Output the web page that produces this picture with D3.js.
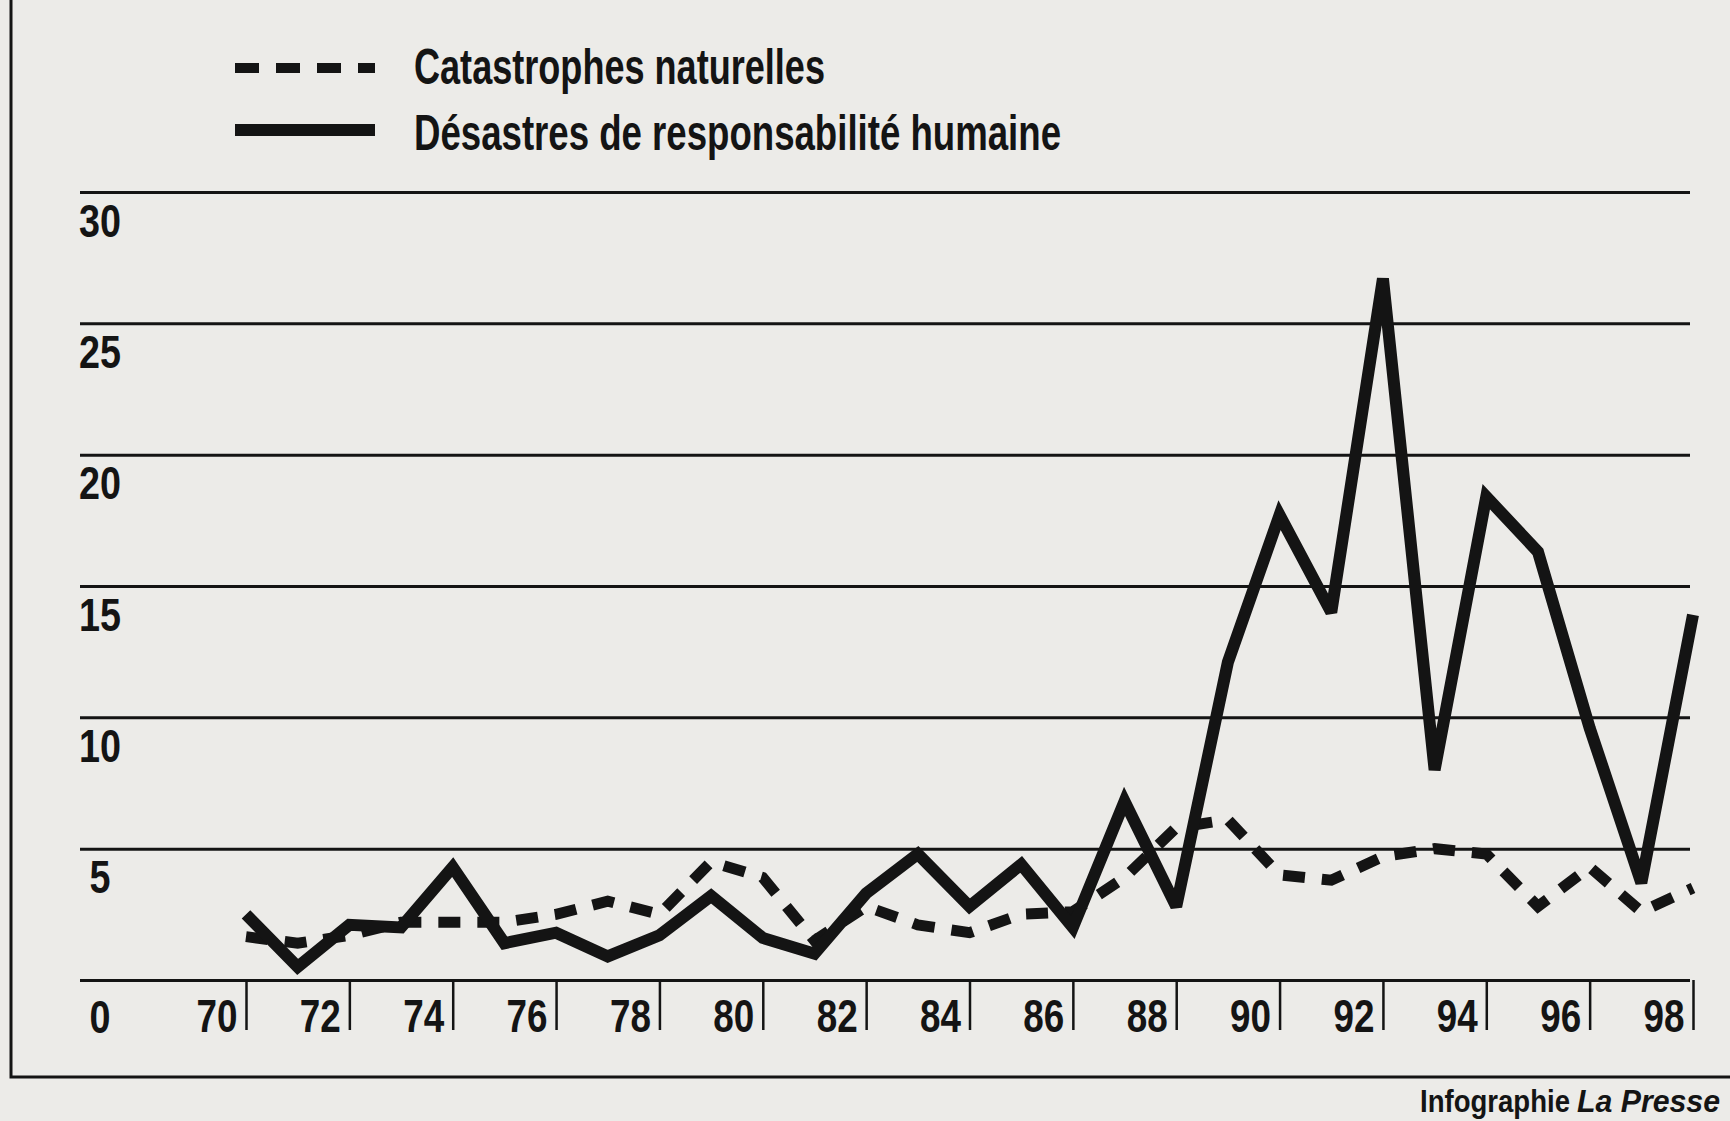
<!DOCTYPE html>
<html>
<head>
<meta charset="utf-8">
<script src="https://cdn.jsdelivr.net/npm/d3@7"></script>
<style>
  body { margin: 0; background: #ecebe8; }
  svg { display: block; }
</style>
</head>
<body>
<div id="chart"></div>
<script>
// Years on the x axis (19xx)
const years = [70, 71, 72, 73, 74, 75, 76, 77, 78, 79,
               80, 81, 82, 83, 84, 85, 86, 87, 88, 89,
               90, 91, 92, 93, 94, 95, 96, 97, 98];

// Catastrophes naturelles (dashed)
const naturelles = [1.65, 1.4, 1.7, 2.2, 2.2, 2.2, 2.5, 3.0, 2.5, 4.5,
                    3.9, 1.5, 2.8, 2.1, 1.8, 2.5, 2.6, 3.9, 5.8, 6.1,
                    4.0, 3.8, 4.7, 5.0, 4.8, 2.8, 4.3, 2.6, 3.5];

// Désastres de responsabilité humaine (solid)
const humaines = [2.5, 0.5, 2.1, 2.0, 4.3, 1.4, 1.8, 0.9, 1.7, 3.2,
                  1.6, 1.0, 3.3, 4.8, 2.8, 4.4, 2.0, 6.8, 2.8, 12.1,
                  17.7, 14.0, 26.7, 8.0, 18.4, 16.3, 9.6, 3.7, 13.9];

const yTicks = [0, 5, 10, 15, 20, 25, 30];
const xTicks = [70, 72, 74, 76, 78, 80, 82, 84, 86, 88, 90, 92, 94, 96, 98];

const legendLabels = ["Catastrophes naturelles", "Désastres de responsabilité humaine"];

generateChart();

function generateChart() {
	const width = 1730;
	const height = 1121;
	const ink = '#141414';
	const fontStack = '"Liberation Sans Narrow", "Arial Narrow", "Liberation Sans", Arial, sans-serif';

	const xScale = d3.scaleLinear()
						.domain([70, 98])
						.range([246, 1693]);

	const yScale = d3.scaleLinear()
						.domain([0, 30])
						.range([980, 192]);

	const svg = d3.select('#chart')
					.append('svg')
					.attr('width', width)
					.attr('height', height);

	// paper background
	svg.append('rect')
		.attr('width', width)
		.attr('height', height)
		.attr('fill', '#ecebe8');

	// frame: left and bottom rules
	svg.append('path')
		.attr('d', 'M11,0 L11,1077 L1730,1077')
		.attr('fill', 'none')
		.attr('stroke', ink)
		.attr('stroke-width', 3);

	// y gridlines + labels
	const yAxis = svg.append('g')
					.attr('transform', 'translate(80,0)')
					.call(d3.axisRight(yScale).tickValues(yTicks).tickSize(1610).tickFormat(d3.format('d')));
	yAxis.select('.domain').remove();
	yAxis.selectAll('line')
		.attr('stroke', ink)
		.attr('stroke-width', 3);
	yAxis.selectAll('text')
		.attr('x', 20)
		.attr('y', (d) => d === 0 ? 52 : 44)
		.attr('dy', 0)
		.attr('text-anchor', 'middle')
		.attr('font-family', fontStack)
		.attr('font-weight', 'bold')
		.attr('font-size', 46)
		.attr('fill', ink)
		.attr('textLength', (d) => String(d).length * 21)
		.attr('lengthAdjust', 'spacingAndGlyphs');

	// x ticks + labels
	const xAxis = svg.append('g')
					.attr('transform', 'translate(0,980)')
					.call(d3.axisBottom(xScale).tickValues(xTicks).tickSize(50).tickFormat(d3.format('d')));
	xAxis.select('.domain').remove();
	xAxis.selectAll('line')
		.attr('stroke', ink)
		.attr('stroke-width', 2.5);
	xAxis.selectAll('text')
		.attr('x', -9)
		.attr('y', 52)
		.attr('dy', 0)
		.attr('text-anchor', 'end')
		.attr('font-family', fontStack)
		.attr('font-weight', 'bold')
		.attr('font-size', 46)
		.attr('fill', ink)
		.attr('textLength', 41)
		.attr('lengthAdjust', 'spacingAndGlyphs');

	const line = d3.line()
					.x((d, i) => xScale(years[i]))
					.y((d) => yScale(d));

	// natural disasters, dashed
	svg.append('path')
		.datum(naturelles)
		.attr('d', line)
		.attr('fill', 'none')
		.attr('stroke', ink)
		.attr('stroke-width', 11)
		.attr('stroke-dasharray', '22 17');

	// human disasters, solid
	svg.append('path')
		.datum(humaines)
		.attr('d', line)
		.attr('fill', 'none')
		.attr('stroke', ink)
		.attr('stroke-width', 12)
		.attr('stroke-linejoin', 'miter')
		.attr('stroke-miterlimit', 3);

	// legend
	const legend = svg.append('g');
	legend.append('line')
		.attr('x1', 235).attr('x2', 375)
		.attr('y1', 68).attr('y2', 68)
		.attr('stroke', ink)
		.attr('stroke-width', 10)
		.attr('stroke-dasharray', '24 17');
	legend.append('line')
		.attr('x1', 235).attr('x2', 375)
		.attr('y1', 130).attr('y2', 130)
		.attr('stroke', ink)
		.attr('stroke-width', 12);
	legend.selectAll('text')
		.data(legendLabels)
		.enter()
			.append('text')
				.attr('x', 414)
				.attr('y', (d, i) => i === 0 ? 84 : 150)
				.attr('font-family', fontStack)
				.attr('font-weight', 'bold')
				.attr('font-size', 50)
				.attr('fill', ink)
				.attr('textLength', (d, i) => i === 0 ? 411 : 647)
				.attr('lengthAdjust', 'spacingAndGlyphs')
				.text((d) => d);

	// credit
	svg.append('text')
		.attr('x', 1420)
		.attr('y', 1112)
		.attr('font-family', fontStack)
		.attr('font-weight', 'bold')
		.attr('font-size', 31)
		.attr('fill', ink)
		.attr('textLength', 150)
		.attr('lengthAdjust', 'spacingAndGlyphs')
		.text('Infographie');
	svg.append('text')
		.attr('x', 1577)
		.attr('y', 1112)
		.attr('font-family', fontStack)
		.attr('font-weight', 'bold')
		.attr('font-style', 'italic')
		.attr('font-size', 31)
		.attr('fill', ink)
		.attr('textLength', 143)
		.attr('lengthAdjust', 'spacingAndGlyphs')
		.text('La Presse');
}
</script>
</body>
</html>
